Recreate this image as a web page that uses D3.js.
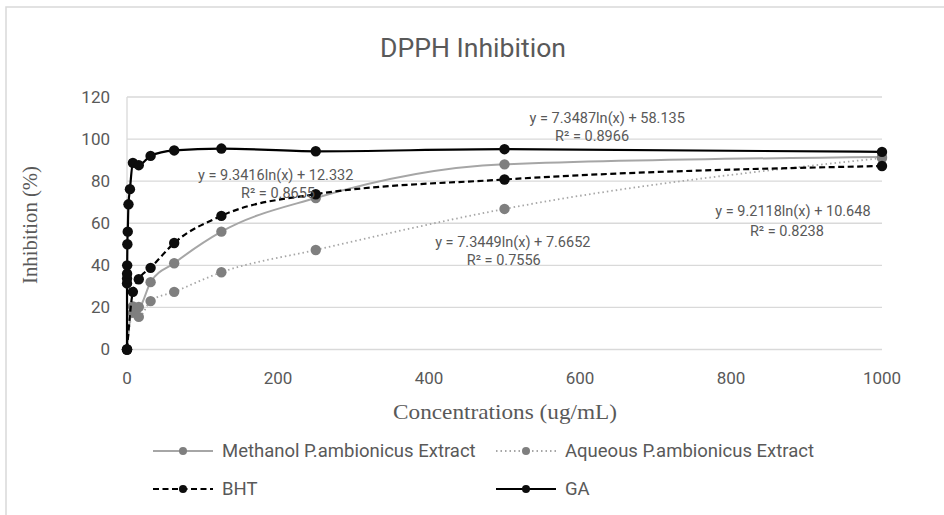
<!DOCTYPE html>
<html lang="en">
<head>
  <meta charset="utf-8">
  <title>DPPH Inhibition</title>
  <script src="https://d3js.org/d3.v7.min.js"></script>
  <style>
    body { margin: 0; background: #fff; }
    svg text { fill: #595959; font-family: "Roboto", "Liberation Sans", sans-serif; }
    .grid line { stroke: #d9d9d9; stroke-width: 1.3px; }
    .eq { font-size: 14.5px; text-anchor: middle; }
    .tick-label { font-size: 17px; }
    .axis-title { font-family: "Liberation Serif", serif !important; font-size: 21px; }
    .legend text { font-size: 18.5px; }
  </style>
</head>
<body>
<svg width="944" height="515"></svg>
<script>
// concentrations (ug/mL) and % inhibition for each series
var concExtract = [0, 7.8, 15.6, 31.25, 62.5, 125, 250, 500, 1000];
var methanol    = [0, 20.5, 20.2, 32, 41, 56, 72, 88, 91.5];
var aqueous     = [0, 17.5, 15.5, 23, 27.4, 36.7, 47.3, 66.8, 91];
var bht         = [0, 27.4, 33.4, 38.8, 50.6, 63.5, 73.8, 80.8, 87.2];
var concGA      = [0, 0.03, 0.06, 0.12, 0.24, 0.49, 0.98, 1.95, 3.9, 7.8, 15.6, 31.25, 62.5, 125, 250, 500, 1000];
var ga          = [0, 31.4, 33.7, 36, 40, 50, 56, 69, 76.2, 88.7, 87.6, 92, 94.6, 95.5, 94.2, 95.2, 93.9];

var xTicks = [0, 200, 400, 600, 800, 1000];
var yTicks = [0, 20, 40, 60, 80, 100, 120];

var trendLabels = [
  {eq: "y = 7.3487ln(x) + 58.135", r2: "R² = 0.8966"},
  {eq: "y = 9.3416ln(x) + 12.332", r2: "R² = 0.8655"},
  {eq: "y = 7.3449ln(x) + 7.6652", r2: "R² = 0.7556"},
  {eq: "y = 9.2118ln(x) + 10.648", r2: "R² = 0.8238"}
];

var svg = d3.select("svg");

// chart border (runs off the window on the right and bottom, like the source)
svg.append("rect")
  .attr("x", 6).attr("y", 7).attr("width", 1000).attr("height", 600)
  .attr("fill", "none").attr("stroke", "#d9d9d9").attr("stroke-width", 1.5);

var x = d3.scaleLinear().domain([0, 1000]).range([127, 882]);
var y = d3.scaleLinear().domain([0, 120]).range([349.5, 97]);

// gridlines
svg.append("g").attr("class", "grid")
  .selectAll("line").data(yTicks).enter().append("line")
  .attr("x1", x(0)).attr("x2", x(1000))
  .attr("y1", function(d) { return y(d); })
  .attr("y2", function(d) { return y(d); });

svg.append("line")
  .attr("x1", x(0)).attr("x2", x(0)).attr("y1", y(0)).attr("y2", y(120))
  .attr("stroke", "#d9d9d9").attr("stroke-width", 1.3);

// tick labels
svg.selectAll(".ylab").data(yTicks).enter().append("text")
  .attr("class", "tick-label")
  .attr("x", 110).attr("y", function(d) { return y(d); })
  .attr("dy", "0.35em").attr("text-anchor", "end")
  .text(function(d) { return d; });

svg.selectAll(".xlab").data(xTicks).enter().append("text")
  .attr("class", "tick-label")
  .attr("x", function(d) { return x(d); }).attr("y", y(0) + 34)
  .attr("text-anchor", "middle")
  .text(function(d) { return d; });

// titles
svg.append("text")
  .attr("x", 473).attr("y", 57).attr("text-anchor", "middle")
  .attr("textLength", 186).attr("lengthAdjust", "spacingAndGlyphs")
  .style("font-size", "26px")
  .text("DPPH Inhibition");

svg.append("text").attr("class", "axis-title")
  .attr("x", 505).attr("y", 419).attr("text-anchor", "middle")
  .attr("textLength", 224).attr("lengthAdjust", "spacingAndGlyphs")
  .text("Concentrations (ug/mL)");

svg.append("text").attr("class", "axis-title")
  .attr("transform", "translate(37,225) rotate(-90)")
  .attr("text-anchor", "middle")
  .attr("textLength", 118).attr("lengthAdjust", "spacingAndGlyphs")
  .text("Inhibition (%)");

var series = [
  {name: "Methanol P.ambionicus Extract", xs: concExtract, ys: methanol, line: "#a6a6a6", dot: "#7f7f7f", dash: null, w: 2},
  {name: "Aqueous P.ambionicus Extract", xs: concExtract, ys: aqueous, line: "#a6a6a6", dot: "#7f7f7f", dash: "1.5,3", w: 1.8},
  {name: "BHT", xs: concExtract, ys: bht, line: "#000", dot: "#0d0d0d", dash: "6,3.5", w: 2.2},
  {name: "GA", xs: concGA, ys: ga, line: "#000", dot: "#0d0d0d", dash: null, w: 2.2}
];

var line = d3.line()
  .curve(d3.curveMonotoneX)
  .x(function(d) { return x(d[0]); })
  .y(function(d) { return y(d[1]); });

series.forEach(function(s) {
  var pts = s.xs.map(function(c, i) { return [c, s.ys[i]]; });
  svg.append("path")
    .attr("d", line(pts))
    .attr("fill", "none")
    .attr("stroke", s.line)
    .attr("stroke-width", s.w)
    .attr("stroke-dasharray", s.dash);
  svg.append("g").selectAll("circle").data(pts).enter().append("circle")
    .attr("cx", function(d) { return x(d[0]); })
    .attr("cy", function(d) { return y(d[1]); })
    .attr("r", 5.2)
    .attr("fill", s.dot);
});

// trendline equations (anchors in data units)
var labelPos = [[636, 107.7, 616, 99.1], [197, 80.6, 200, 72], [511, 48.7, 499, 40.2], [882, 63.4, 874, 54]];
trendLabels.forEach(function(t, i) {
  var p = labelPos[i];
  svg.append("text").attr("class", "eq").attr("x", x(p[0])).attr("y", y(p[1])).text(t.eq);
  svg.append("text").attr("class", "eq").attr("x", x(p[2])).attr("y", y(p[3])).text(t.r2);
});

// legend
var legendPos = [[153, 451], [496, 451], [153, 489], [496, 489]];
var legend = svg.append("g").attr("class", "legend");
series.forEach(function(s, i) {
  var lx = legendPos[i][0], ly = legendPos[i][1];
  legend.append("line")
    .attr("x1", lx).attr("x2", lx + 60).attr("y1", ly).attr("y2", ly)
    .attr("stroke", s.line).attr("stroke-width", s.w)
    .attr("stroke-dasharray", s.dash);
  legend.append("circle").attr("cx", lx + 30).attr("cy", ly).attr("r", 4).attr("fill", s.dot);
  legend.append("text").attr("x", lx + 69).attr("y", ly).attr("dy", "0.35em").text(s.name);
});
</script>
</body>
</html>
